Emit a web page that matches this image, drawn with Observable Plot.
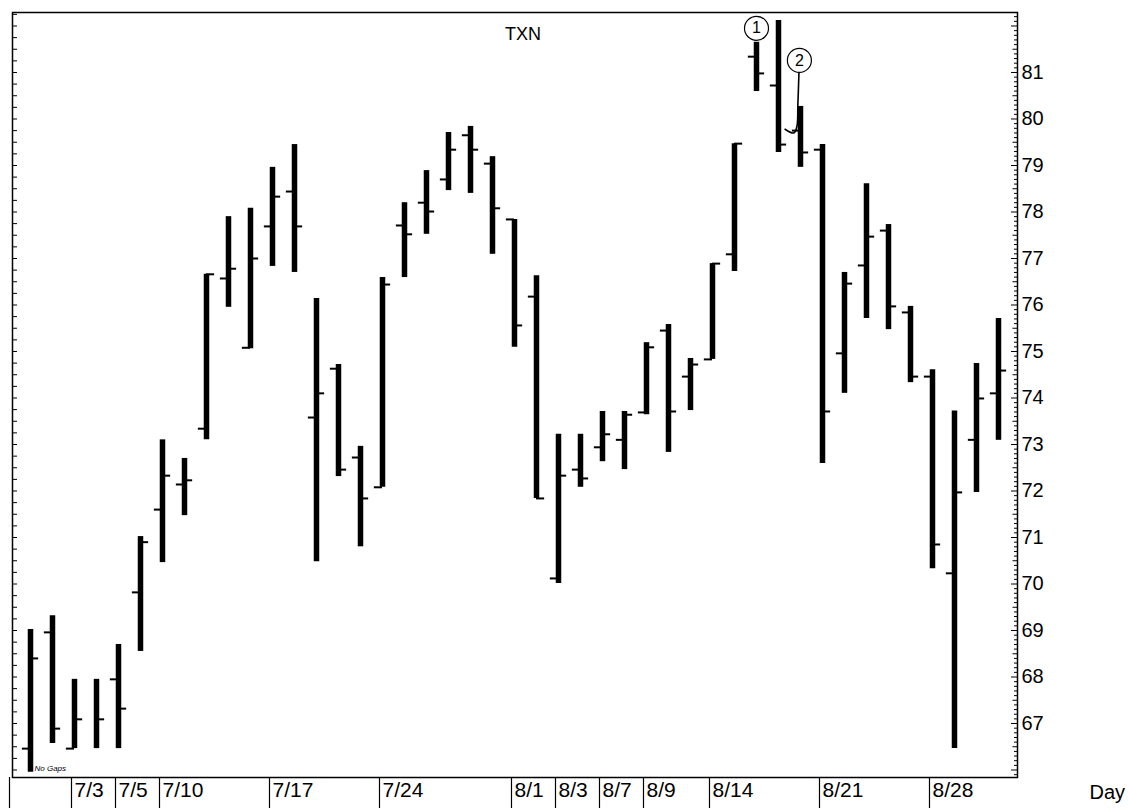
<!DOCTYPE html>
<html><head><meta charset="utf-8">
<script src="https://cdn.jsdelivr.net/npm/d3@7"></script>
<script src="https://cdn.jsdelivr.net/npm/@observablehq/plot@0.6"></script>
<style>
body{margin:0;background:#fff}
#chart svg{display:block}
</style>
</head><body><div id="chart"></div>
<script>
// Trading-day index 0..44 (6/29 .. 8/31)
const dayIndex = d3.range(45);
const opens  = [66.46,68.96,66.46,null,67.95,69.82,71.60,72.14,73.34,76.57,75.08,77.69,78.44,73.58,74.63,72.72,72.08,77.71,78.20,78.70,79.65,79.04,77.84,76.18,70.12,72.46,72.94,73.10,73.69,75.45,74.46,74.83,77.09,81.34,80.72,79.75,79.34,74.96,76.85,77.60,75.84,74.46,70.23,73.10,74.10];
const highs  = [69.02,69.32,67.95,67.95,68.70,71.02,73.10,72.70,76.66,77.90,78.08,78.96,79.45,76.14,74.72,72.96,76.59,78.20,78.89,79.71,79.84,79.19,77.84,76.63,73.22,73.22,73.71,73.71,75.19,75.58,74.85,76.89,79.47,81.65,82.12,80.27,79.45,76.70,78.61,77.73,75.97,74.61,73.72,74.74,75.71];
const lows   = [65.95,66.57,66.46,66.46,66.46,68.55,70.46,71.47,73.10,75.95,75.06,76.83,76.70,70.48,72.31,70.80,72.08,76.59,77.52,78.46,78.40,77.09,75.09,71.84,70.01,72.08,72.63,72.46,73.64,72.83,73.73,74.83,76.72,80.59,79.28,78.96,72.59,74.10,75.71,75.47,74.33,70.33,66.46,71.97,73.09];
const closes = [68.40,66.89,67.09,67.09,67.32,70.90,72.33,72.23,76.66,76.78,77.00,78.33,77.69,74.10,72.46,71.84,76.44,77.52,78.01,79.34,79.34,78.08,75.56,71.84,72.33,72.27,73.22,73.64,75.09,73.71,74.72,76.89,79.47,80.98,79.45,79.28,73.71,76.46,77.47,75.97,74.46,70.85,71.97,73.99,74.59];

// Date cells of the bottom row (index of first day in each cell)
const cellIndex  = [2, 4, 6, 11, 16, 22, 24, 26, 28, 31, 36, 41];
const cellLabels = ["7/3","7/5","7/10","7/17","7/24","8/1","8/3","8/7","8/9","8/14","8/21","8/28"];
const priceTicks = d3.range(67, 82);

// Annotation markers
const markIndex = [33.0, 34.95];
const markPrice = [81.95, 81.26];
const markText  = ["1", "2"];
const leaderIndex = [34.93, 34.88, 34.84, 34.7, 34.3];
const leaderPrice = [80.99, 80.30, 79.85, 79.70, 79.78];

const bars = dayIndex.map(i => ({i, open: opens[i], high: highs[i], low: lows[i], close: closes[i]}));
const xDom = [-0.818, 44.864];
const yDom = [65.839, 82.29];
const pxX = 22; // px per day, used for axis-tick lengths

const rightMinor = d3.range(659, 823).map(v => v / 10);
const tickLen = v => (Math.abs(v - Math.round(v)) < 1e-6 ? 6 : Math.abs(v * 2 - Math.round(v * 2)) < 1e-6 ? 4.5 : 3);
const leftMinor = d3.range(264, 330).map(v => v / 4);

const sans = "'Liberation Sans', Arial, sans-serif";
const annot = markIndex.map((x, k) => ({x, y: markPrice[k], t: markText[k]}));
const leader = leaderIndex.map((x, k) => ({x, y: leaderPrice[k]}));

const chart = Plot.plot({
  width: 1129, height: 808,
  marginLeft: 12, marginRight: 112, marginTop: 12, marginBottom: 31,
  style: {background: "#fff", color: "#000", fontFamily: sans},
  x: {type: "linear", domain: xDom},
  y: {type: "linear", domain: yDom},
  marks: [
    Plot.frame({stroke: "#000", strokeWidth: 1.5}),
    // left axis minor ticks
    Plot.ruleY(leftMinor, {y: d => d, x1: xDom[0], x2: xDom[0] + 5 / pxX, stroke: "#000", strokeWidth: 1}),
    // right axis minor ticks
    Plot.ruleY(rightMinor, {y: d => d, x1: d => xDom[1] - tickLen(d) / pxX, x2: xDom[1], stroke: "#000", strokeWidth: 1}),
    Plot.axisY({anchor: "right", ticks: priceTicks, tickSize: 0, tickPadding: 4, fontSize: 20, label: null, tickFormat: d => String(d)}),
    // bottom date row separators
    Plot.axisX({ticks: [xDom[0], ...cellIndex], tickSize: 31, dx: -3, tickFormat: () => "", label: null, strokeWidth: 1.2}),
    Plot.text(cellIndex, {x: d => d, text: (d, k) => cellLabels[k], frameAnchor: "bottom", textAnchor: "start", dx: 0, dy: 19, fontSize: 21}),
    // OHLC bars
    Plot.ruleX(bars, {x: "i", y1: "low", y2: "high", stroke: "#000", strokeWidth: 5.5}),
    Plot.ruleY(bars.filter(d => d.open != null), {y: "open", x1: d => d.i - 0.37, x2: "i", stroke: "#000", strokeWidth: 2}),
    Plot.ruleY(bars, {y: "close", x1: "i", x2: d => d.i + 0.37, stroke: "#000", strokeWidth: 2}),
    // annotations
    Plot.line(leader, {x: "x", y: "y", curve: "catmull-rom", stroke: "#000", strokeWidth: 1.6}),
    Plot.dot(annot, {x: "x", y: "y", r: 12, stroke: "#000", fill: "#fff", strokeWidth: 1.2}),
    Plot.text(annot, {x: "x", y: "y", text: "t", fontSize: 16}),
    // texts
    Plot.text(["TXN"], {frameAnchor: "top", dx: 8, dy: 15, fontSize: 18}),
    Plot.text(["Day"], {frameAnchor: "bottom-right", textAnchor: "start", dx: 72, dy: 21, fontSize: 20}),
    Plot.text(["No Gaps"], {frameAnchor: "bottom-left", textAnchor: "start", dx: 22, dy: -7, fontSize: 8, fontStyle: "italic"})
  ]
});
document.getElementById("chart").appendChild(chart);
</script>
</body></html>
